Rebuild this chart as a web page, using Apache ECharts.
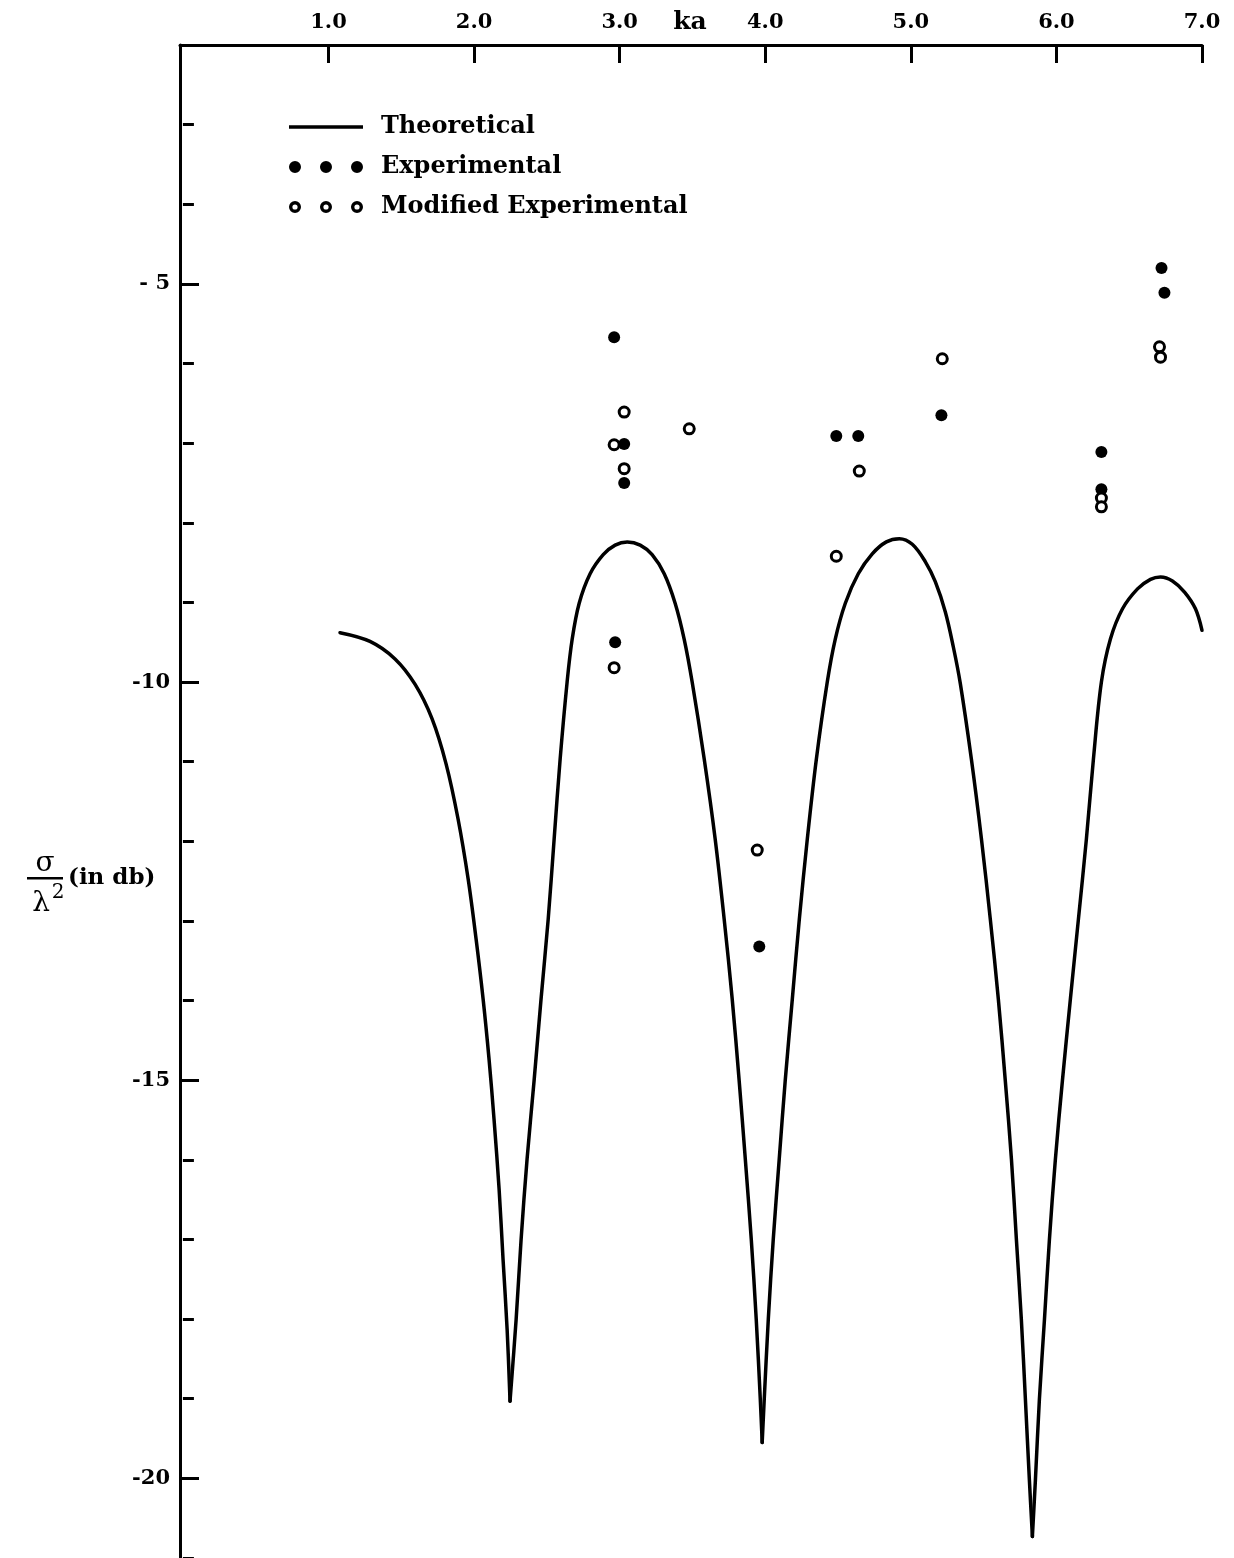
<!DOCTYPE html>
<html>
<head>
<meta charset="utf-8">
<script src="https://cdn.jsdelivr.net/npm/echarts@6/dist/echarts.min.js"></script>
<style>
  html, body { margin: 0; padding: 0; background: #fff; }
  #chart { width: 1234px; height: 1558px; }
</style>
</head>
<body>
<div id="chart"></div>
<script>
// Axis tick values
const kaTicks = [1, 2, 3, 4, 5, 6, 7];
const dbLabelTicks = [-5, -10, -15, -20];
const dbMinorTicks = [-21, -20, -19, -18, -17, -16, -15, -14, -13, -12, -11, -10, -9, -8, -7, -6, -5, -4, -3];

// Theoretical radar cross section (ka, dB)
const theoryKa = [
  1.079, 1.285, 1.457, 1.595, 1.711, 1.808, 1.890, 1.959, 2.014, 2.062, 2.103, 2.137, 2.172, 2.199, 2.227, 2.247,
  2.289, 2.323, 2.364, 2.412, 2.460, 2.509, 2.550, 2.591, 2.639, 2.674, 2.722, 2.797, 2.887, 2.969, 3.052,
  3.141, 3.223, 3.306, 3.381, 3.443, 3.498, 3.581, 3.656, 3.718, 3.773, 3.821, 3.863, 3.904, 3.938, 3.966, 3.979,
  3.993, 4.021, 4.055, 4.096, 4.137, 4.186, 4.234, 4.289, 4.351, 4.426, 4.481, 4.550, 4.639, 4.735, 4.832, 4.921,
  5.010, 5.100, 5.168, 5.237, 5.292, 5.340, 5.416, 5.485, 5.546, 5.601, 5.649, 5.691, 5.725, 5.759, 5.787, 5.814, 5.835,
  5.856, 5.883, 5.918, 5.952, 5.993, 6.041, 6.096, 6.151, 6.206, 6.254, 6.309, 6.371, 6.454, 6.557, 6.646, 6.715,
  6.797, 6.880, 6.955, 7.0
];
const theoryDb = [
  -9.38, -9.49, -9.71, -10.03, -10.46, -11.03, -11.72, -12.47, -13.23, -13.98, -14.74, -15.49, -16.37, -17.25, -18.13, -19.03,
  -18.00, -17.00, -15.99, -15.01, -13.98, -12.98, -11.97, -10.97, -10.00, -9.46, -9.01, -8.64, -8.40, -8.28, -8.24,
  -8.28, -8.40, -8.64, -9.01, -9.46, -10.00, -10.97, -11.97, -12.98, -13.98, -15.01, -15.99, -17.00, -18.00, -19.01, -19.55,
  -19.01, -18.00, -17.00, -15.99, -15.01, -13.98, -12.98, -11.97, -10.97, -10.00, -9.46, -9.01, -8.64, -8.39, -8.24, -8.20,
  -8.27, -8.49, -8.74, -9.12, -9.56, -10.02, -10.97, -11.97, -12.98, -13.98, -15.01, -15.99, -17.00, -18.00, -19.01, -20.01, -20.73,
  -20.01, -19.01, -18.00, -17.00, -15.99, -15.01, -13.98, -12.98, -11.97, -10.97, -10.00, -9.46, -9.08, -8.83, -8.71, -8.68,
  -8.73, -8.87, -9.08, -9.35
];

// Measured values
const expKa = [2.962, 3.031, 3.031, 2.969, 3.959, 4.488, 4.639, 5.210, 6.309, 6.309, 6.722, 6.742];
const expDb = [-5.67, -7.01, -7.50, -9.50, -13.32, -6.91, -6.91, -6.65, -7.11, -7.58, -4.80, -5.11];

// Corrected measured values
const modKa = [3.031, 2.962, 3.031, 3.478, 2.962, 3.945, 4.488, 4.646, 5.216, 6.309, 6.309, 6.708, 6.715];
const modDb = [-6.61, -7.02, -7.32, -6.82, -9.82, -12.11, -8.42, -7.35, -5.94, -7.69, -7.80, -5.79, -5.92];

const zip = (xs, ys) => xs.map((x, i) => [x, ys[i]]);

const FONT = 'DejaVu Serif';
const INK = '#000';

// Split the theoretical curve at its nulls so each lobe is smoothed
// on its own and the nulls stay sharp.
const theoryPts = zip(theoryKa, theoryDb);
const cuts = [0];
for (let i = 1; i < theoryPts.length - 1; i++) {
  if (theoryDb[i] < theoryDb[i - 1] && theoryDb[i] < theoryDb[i + 1]) cuts.push(i);
}
cuts.push(theoryPts.length - 1);
const lobes = [];
for (let k = 0; k < cuts.length - 1; k++) lobes.push(theoryPts.slice(cuts[k], cuts[k + 1] + 1));

// Legend icons
const dot = (cx) => `M${cx - 6},6A6,6,0,1,1,${cx + 6},6A6,6,0,1,1,${cx - 6},6Z`;
const hole = (cx) => `M${cx - 2.6},6A2.6,2.6,0,1,0,${cx + 2.6},6A2.6,2.6,0,1,0,${cx - 2.6},6Z`;
const dotsIcon = 'path://' + [6, 37, 68].map(dot).join(' ');
const ringsIcon = 'path://' + [6, 37, 68].map(c => dot(c) + ' ' + hole(c)).join(' ');
const lineIcon = 'path://M0,0L0.01,0L0,0.01Z M0,4.2L74,4.2L74,7.8L0,7.8Z M73.99,12L74,12L74,11.99Z';

const chart = echarts.init(document.getElementById('chart'), null, { renderer: 'canvas' });

const lineSeries = lobes.map(pts => ({
  name: 'Theoretical',
  type: 'line',
  yAxisIndex: 0,
  data: pts,
  showSymbol: false,
  symbol: 'none',
  smooth: 0.35,
  lineStyle: { color: INK, width: 3.5, join: 'round', cap: 'round' },
  itemStyle: { color: INK },
  z: 2
}));

chart.setOption({
  backgroundColor: '#fff',
  animation: false,
  grid: { left: 180, right: 32, top: 45, bottom: 0, containLabel: false, outerBoundsMode: 'none' },
  legend: {
    orient: 'vertical',
    left: 289,
    top: 113,
    padding: 0,
    itemWidth: 74,
    itemHeight: 12,
    itemGap: 12,
    selectedMode: false,
    textStyle: {
      fontFamily: FONT, fontSize: 24, fontWeight: 'bold', color: INK,
      lineHeight: 28, padding: [0, 0, 0, 13]
    },
    data: [
      { name: 'Theoretical', icon: lineIcon, itemStyle: { color: INK, borderWidth: 0 } },
      { name: 'Experimental', icon: dotsIcon, itemStyle: { color: INK, borderWidth: 0 } },
      { name: 'Modified Experimental', icon: ringsIcon, itemStyle: { color: INK, borderWidth: 0 } }
    ]
  },
  xAxis: {
    type: 'value',
    position: 'top',
    min: -0.02,
    max: 7,
    axisLine: { show: true, lineStyle: { color: INK, width: 3 } },
    axisTick: { show: true, inside: true, length: 18, lineStyle: { color: INK, width: 3 }, customValues: kaTicks },
    axisLabel: {
      show: true, margin: 12, customValues: kaTicks,
      fontFamily: FONT, fontSize: 21, fontWeight: 'bold', color: INK,
      formatter: v => Number(v).toFixed(1)
    },
    splitLine: { show: false }
  },
  yAxis: [
    {
      type: 'value',
      position: 'left',
      min: -21,
      max: -2,
      axisLine: { show: true, onZero: false, lineStyle: { color: INK, width: 3 } },
      axisTick: { show: true, inside: true, length: 19, lineStyle: { color: INK, width: 3 }, customValues: dbLabelTicks },
      axisLabel: {
        show: true, margin: 10, customValues: dbLabelTicks,
        fontFamily: FONT, fontSize: 21, fontWeight: 'bold', color: INK,
        formatter: v => (v === -5 ? '- 5' : String(v))
      },
      splitLine: { show: false }
    },
    {
      type: 'value',
      position: 'left',
      min: -21,
      max: -2,
      axisLine: { show: false },
      axisTick: { show: true, inside: true, length: 11, lineStyle: { color: INK, width: 3 }, customValues: dbMinorTicks },
      axisLabel: { show: false },
      splitLine: { show: false }
    }
  ],
  series: lineSeries.concat([
    {
      name: 'Experimental',
      type: 'scatter',
      yAxisIndex: 0,
      data: zip(expKa, expDb),
      symbol: 'circle',
      symbolSize: 12,
      itemStyle: { color: INK, opacity: 1 },
      z: 3
    },
    {
      name: 'Modified Experimental',
      type: 'scatter',
      yAxisIndex: 0,
      data: zip(modKa, modDb),
      symbol: 'circle',
      symbolSize: 10,
      itemStyle: { color: '#fff', borderColor: INK, borderWidth: 3, opacity: 1 },
      z: 4
    }
  ]),
  graphic: [
    // x-axis title
    { type: 'text', x: 690, y: 22, style: { text: 'ka', fontFamily: FONT, fontSize: 25, fontWeight: 'bold', fill: INK, align: 'center', verticalAlign: 'middle' } },
    // y-axis title: sigma over lambda squared
    { type: 'text', x: 45, y: 864, style: { text: 'σ', fontFamily: FONT, fontSize: 28, fill: INK, align: 'center', verticalAlign: 'middle' } },
    { type: 'rect', shape: { x: 27, y: 877, width: 36, height: 2.5 }, style: { fill: INK } },
    { type: 'text', x: 41, y: 904, style: { text: 'λ', fontFamily: FONT, fontSize: 28, fill: INK, align: 'center', verticalAlign: 'middle' } },
    { type: 'text', x: 58, y: 893, style: { text: '2', fontFamily: FONT, fontSize: 20, fill: INK, align: 'center', verticalAlign: 'middle' } },
    { type: 'text', x: 68, y: 878, style: { text: '(in db)', fontFamily: FONT, fontSize: 23, fontWeight: 'bold', fill: INK, align: 'left', verticalAlign: 'middle' } }
  ]
});
</script>
</body>
</html>
